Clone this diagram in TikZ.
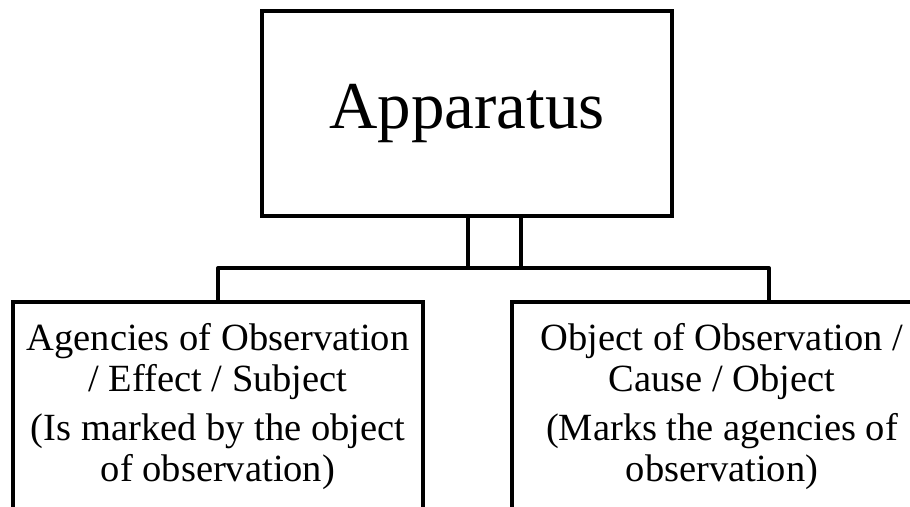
\documentclass[tikz,border=0pt]{standalone}
\usepackage{fontspec}
\setmainfont{Liberation Serif}
\begin{document}
\begin{tikzpicture}[x=1pt,y=-1pt,
  box/.style={draw, line width=4pt, rectangle, inner sep=0pt, align=center},
  link/.style={line width=4pt, line join=round},
  body/.style={font=\fontsize{38.5}{41}\selectfont}]
\useasboundingbox (0,0) rectangle (910,506);
\clip (0,0) rectangle (910,506);
% top box
\node[box, minimum width=410pt, minimum height=205pt,
      font=\fontsize{67}{72}\selectfont] (app) at (467,113.5)
  {\raisebox{-3pt}{Apparatus}};
% lower boxes
\node[box, body, minimum width=410pt, minimum height=210pt] (left) at (218,407)
  {Agencies of Observation\\ / Effect / Subject\\[8pt]
   (Is marked by the object\\ of observation)};
\node[box, body, minimum width=420pt, minimum height=210pt] (right) at (722,407)
  {Object of Observation /\\ Cause / Object\\[8pt]
   (Marks the agencies of\\ observation)};
% bus and taps
\coordinate (jL) at (218,268);
\coordinate (jR) at (769,268);
\coordinate (tA) at (468,268);
\coordinate (tB) at (521,268);
\draw[link] (left.north) -- (jL) -- (jR) -- (jR |- right.north);
\draw[link] (app.south -| tA) -- (tA);
\draw[link] (app.south -| tB) -- (tB);
\end{tikzpicture}
\end{document}
